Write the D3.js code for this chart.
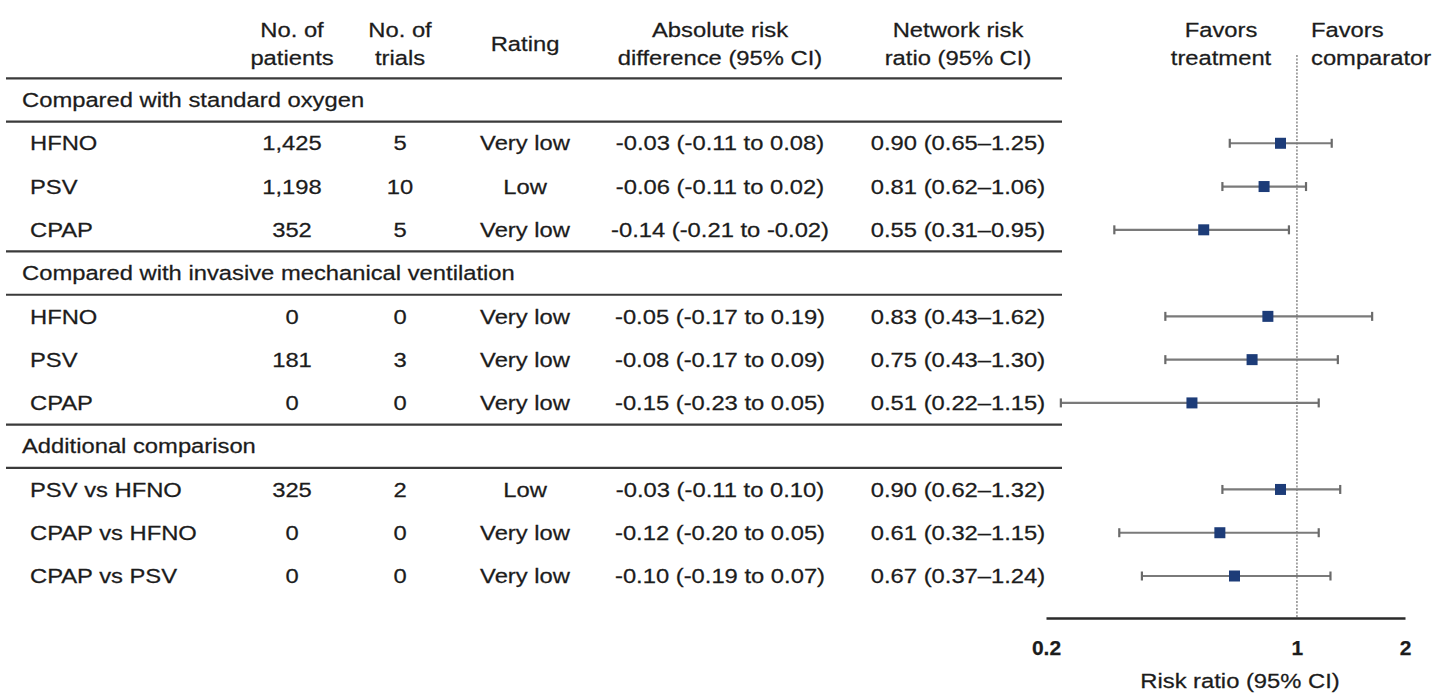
<!DOCTYPE html>
<html lang="en">
<head>
<meta charset="UTF-8">
<title>Risk ratio forest plot</title>
<script src="https://d3js.org/d3.v7.min.js"></script>
<style>
    body { margin: 0; background: #fff; }
    svg text { font-family: "Liberation Sans", Arial, sans-serif; fill: #1c1c1c; stroke: #1c1c1c; stroke-width: 0.25px; }
</style>
</head>
<body>
<div id="chart"></div>
<script>
// Table data
const sections = ["Compared with standard oxygen", "Compared with invasive mechanical ventilation", "Additional comparison"];
const rowSection = [0, 0, 0, 1, 1, 1, 2, 2, 2];
const labels = ["HFNO", "PSV", "CPAP", "HFNO", "PSV", "CPAP", "PSV vs HFNO", "CPAP vs HFNO", "CPAP vs PSV"];
const patients = ["1,425", "1,198", "352", "0", "181", "0", "325", "0", "0"];
const trials = ["5", "10", "5", "0", "3", "0", "2", "0", "0"];
const ratings = ["Very low", "Low", "Very low", "Very low", "Very low", "Very low", "Low", "Very low", "Very low"];
const ardText = ["-0.03 (-0.11 to 0.08)", "-0.06 (-0.11 to 0.02)", "-0.14 (-0.21 to -0.02)",
                 "-0.05 (-0.17 to 0.19)", "-0.08 (-0.17 to 0.09)", "-0.15 (-0.23 to 0.05)",
                 "-0.03 (-0.11 to 0.10)", "-0.12 (-0.20 to 0.05)", "-0.10 (-0.19 to 0.07)"];
const rr   = [0.90, 0.81, 0.55, 0.83, 0.75, 0.51, 0.90, 0.61, 0.67];
const rrLo = [0.65, 0.62, 0.31, 0.43, 0.43, 0.22, 0.62, 0.32, 0.37];
const rrHi = [1.25, 1.06, 0.95, 1.62, 1.30, 1.15, 1.32, 1.15, 1.24];
const tickValues = [0.2, 1, 2];
const tickLabels = ["0.2", "1", "2"];

const width = 1439, height = 694;
const fs = 20.5;
const sx = 1.16; // the source text is a bit wide for its height

const svg = d3.select("#chart").append("svg")
    .attr("width", width).attr("height", height);

// place a text element at (x, y) with the horizontal stretch
function place(t, xpos, ypos) {
    return t.attr("transform", `translate(${xpos},${ypos}) scale(${sx},1)`);
}

// slot layout: each section has a header slot followed by its rows
const slots = [];
let s = 0;
sections.forEach((name, si) => {
    slots.push({ type: "section", text: name, slot: s++ });
    rowSection.forEach((sec, i) => { if (sec === si) slots.push({ type: "row", i: i, slot: s++ }); });
});
const y = d3.scaleLinear().domain([0, slots.length - 1]).range([100, 576]);
const x = d3.scaleLog().domain([0.2, 2]).range([1046, 1405]);

const cols = { patients: 292, trials: 400, rating: 525, ard: 720, rr: 958 };
const lineX0 = 6, lineX1 = 1062;

// header
const headers = [
    { x: cols.patients, a: "middle", lines: ["No. of", "patients"] },
    { x: cols.trials, a: "middle", lines: ["No. of", "trials"] },
    { x: cols.rating, a: "middle", lines: ["Rating"] },
    { x: cols.ard, a: "middle", lines: ["Absolute risk", "difference (95% CI)"] },
    { x: cols.rr, a: "middle", lines: ["Network risk", "ratio (95% CI)"] },
    { x: 1221, a: "middle", lines: ["Favors", "treatment"] },
    { x: 1311, a: "start", lines: ["Favors", "comparator"] }
];
headers.forEach(h => {
    const t = svg.append("text").attr("text-anchor", h.a).style("font-size", fs + "px");
    if (h.lines.length === 1) {
        place(t, h.x, 51).text(h.lines[0]);
    } else {
        place(t, h.x, 37);
        h.lines.forEach((l, k) => t.append("tspan").attr("x", 0).attr("y", k * 28).text(l));
    }
});

// horizontal rules
const rules = [-0.5];
slots.forEach((d, k) => {
    if (d.type === "section") {
        if (k > 0) rules.push(k - 0.5);
        rules.push(k + 0.5);
    }
});
svg.selectAll(".rule").data(rules).join("line")
    .attr("x1", lineX0).attr("x2", lineX1)
    .attr("y1", d => y(d)).attr("y2", d => y(d))
    .attr("stroke", "#3a3a3a").attr("stroke-width", 2.2);

// section titles
svg.selectAll(".sec").data(slots.filter(d => d.type === "section")).join("text")
    .attr("transform", d => `translate(22,${y(d.slot)}) scale(${sx},1)`).attr("dy", "0.35em")
    .style("font-size", fs + "px").text(d => d.text);

// table rows
const rows = slots.filter(d => d.type === "row");
const cell = (xpos, anchor, acc) => svg.selectAll(null).data(rows).join("text")
    .attr("transform", d => `translate(${xpos},${y(d.slot)}) scale(${sx},1)`).attr("dy", "0.35em")
    .attr("text-anchor", anchor).style("font-size", fs + "px").text(acc);
cell(30, "start", d => labels[d.i]);
cell(cols.patients, "middle", d => patients[d.i]);
cell(cols.trials, "middle", d => trials[d.i]);
cell(cols.rating, "middle", d => ratings[d.i]);
cell(cols.ard, "middle", d => ardText[d.i]);
cell(cols.rr, "middle", d => `${rr[d.i].toFixed(2)} (${rrLo[d.i].toFixed(2)}\u2013${rrHi[d.i].toFixed(2)})`);

// forest plot
const axisY = y(slots.length - 1) + 42;
svg.append("line")
    .attr("x1", x(1)).attr("x2", x(1)).attr("y1", 55).attr("y2", axisY)
    .attr("stroke", "#8a8a8a").attr("stroke-width", 1.5).attr("stroke-dasharray", "2,1.5");

const ci = svg.append("g");
ci.selectAll(".ci").data(rows).join("line")
    .attr("x1", d => x(rrLo[d.i])).attr("x2", d => x(rrHi[d.i]))
    .attr("y1", d => y(d.slot)).attr("y2", d => y(d.slot))
    .attr("stroke", "#7a7a7a").attr("stroke-width", 2.2);
[rrLo, rrHi].forEach(arr => {
    ci.selectAll(null).data(rows).join("line")
        .attr("x1", d => x(arr[d.i])).attr("x2", d => x(arr[d.i]))
        .attr("y1", d => y(d.slot) - 4.5).attr("y2", d => y(d.slot) + 4.5)
        .attr("stroke", "#6a6a6a").attr("stroke-width", 2.2);
});
const sq = 11;
ci.selectAll(".pt").data(rows).join("rect")
    .attr("x", d => x(rr[d.i]) - sq / 2).attr("y", d => y(d.slot) - sq / 2)
    .attr("width", sq).attr("height", sq).attr("fill", "#1d3c78");

// axis
const axis = svg.append("g").attr("transform", `translate(0,${axisY})`)
    .call(d3.axisBottom(x).tickValues(tickValues).tickSize(0).tickFormat((d, k) => tickLabels[k]));
axis.select(".domain").attr("stroke", "#2a2a2a").attr("stroke-width", 2.5);
axis.selectAll(".tick text").attr("dy", 0).attr("y", 37)
    .style("font-size", "21px").style("font-weight", "bold")
    .style("font-family", "'Liberation Sans', Arial, sans-serif").attr("fill", "#1c1c1c");

place(svg.append("text"), 1240, 688).attr("text-anchor", "middle")
    .style("font-size", fs + "px").text("Risk ratio (95% CI)");
</script>
</body>
</html>
